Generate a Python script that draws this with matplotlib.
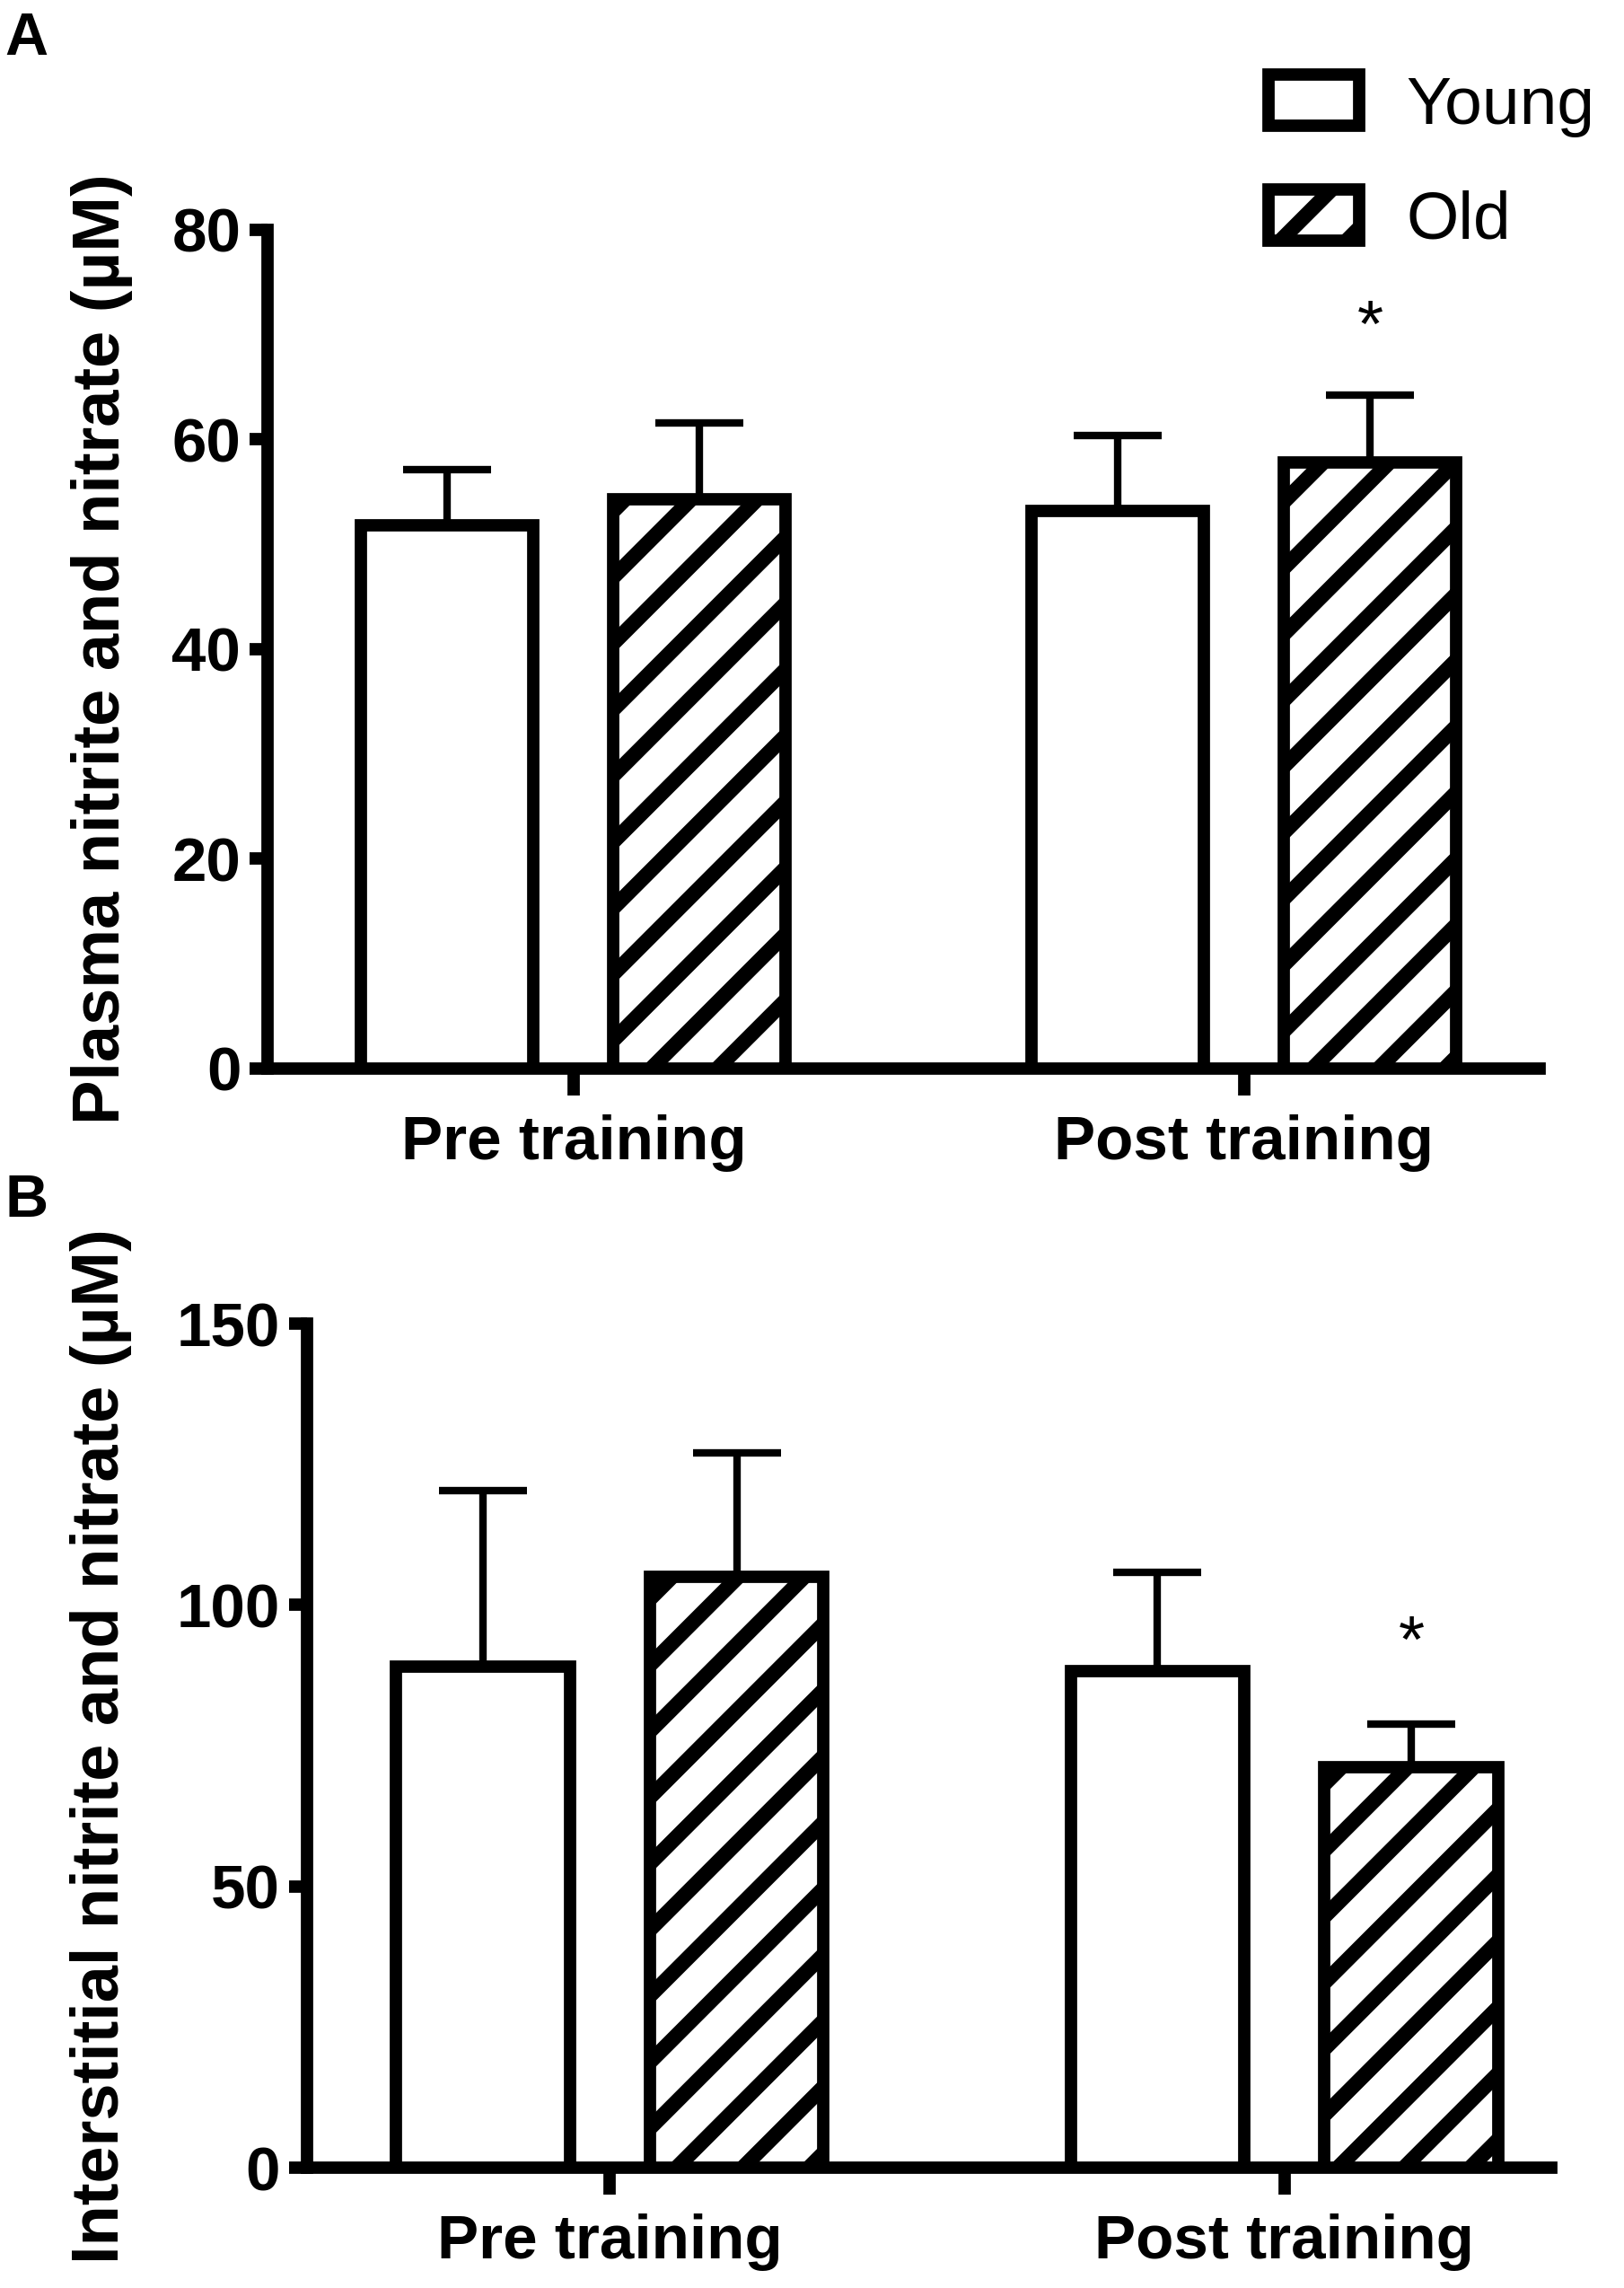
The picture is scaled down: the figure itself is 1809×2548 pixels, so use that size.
import matplotlib
matplotlib.use('Agg')
import matplotlib.pyplot as plt
import numpy as np

# dpi chosen so the '///' hatch spacing matches the picture;
# k turns the sizes I measured at 600 dpi into points at this dpi
DPI = 663
k = 600 / DPI

plt.rcParams['font.family'] = ['Liberation Sans', 'DejaVu Sans']
plt.rcParams['hatch.linewidth'] = 2.0 * k

# data
categories = ['Pre training', 'Post training']
groups = ['Young', 'Old']

plasma_young = [51.8, 53.2]
plasma_young_err = [5.3, 7.2]
plasma_old = [54.3, 57.8]
plasma_old_err = [7.3, 6.4]

inter_young = [89.0, 88.2]
inter_young_err = [31.4, 17.6]
inter_old = [105.0, 71.2]
inter_old_err = [22.0, 7.6]

lw = 1.65 * k
width = 0.257
off = 0.188

fig = plt.figure(figsize=(1809/DPI, 2548/DPI), dpi=DPI)
axA = fig.add_axes([0.1649, 0.533, 0.948-0.1649, 0.8996-0.533])
axB = fig.add_axes([0.189, 0.0525, 0.955-0.189, 0.4215-0.0525])

def panel(ax, young, young_err, old, old_err, ymax, yticks, ylabel, xlim, star_y):
    x = np.arange(len(categories))
    ekw = dict(elinewidth=1.0*k, capthick=1.0*k, ecolor='black')
    ax.bar(x-off, young, width, color='white', edgecolor='black', linewidth=lw,
           yerr=[np.zeros(len(young)), young_err], capsize=5.9*k, error_kw=ekw,
           label=groups[0], zorder=3)
    ax.bar(x+off, old, width, color='white', edgecolor='black', linewidth=lw,
           hatch='///', yerr=[np.zeros(len(old)), old_err], capsize=5.9*k,
           error_kw=ekw, label=groups[1], zorder=3)
    ax.text(x[1]+off, star_y, '*', ha='center', va='center', fontsize=9*k)
    ax.set_ylim(0, ymax)
    ax.set_xlim(*xlim)
    ax.set_yticks(yticks)
    ax.set_xticks(x)
    ax.set_xticklabels(categories, fontsize=8.3*k, fontweight='bold')
    for t in ax.get_yticklabels():
        t.set_fontsize(8.3*k)
        t.set_fontweight('bold')
    ax.spines['top'].set_visible(False)
    ax.spines['right'].set_visible(False)
    ax.spines['left'].set_linewidth(lw)
    ax.spines['bottom'].set_linewidth(lw)
    ax.tick_params(axis='y', length=2.4*k, width=lw, pad=1.2*k)
    ax.tick_params(axis='x', length=3.6*k, width=lw, pad=2.5*k)
    ax.set_ylabel(ylabel, fontsize=8.9*k, fontweight='bold')

panel(axA, plasma_young, plasma_young_err, plasma_old, plasma_old_err,
      80, [0, 20, 40, 60, 80], 'Plasma nitrite and nitrate (µM)',
      (-0.456, 1.441), 70.5)
axA.yaxis.set_label_coords(-0.106, 0.5)

panel(axB, inter_young, inter_young_err, inter_old, inter_old_err,
      150, [0, 50, 100, 150], 'Interstitial nitrite and nitrate (µM)',
      (-0.449, 1.395), 93)
axB.yaxis.set_label_coords(-0.141, 0.5)

axA.legend(loc='upper left', bbox_to_anchor=(0.781, 0.9675),
           bbox_transform=fig.transFigure, frameon=False, fontsize=9*k,
           handlelength=1.35, handleheight=0.8, handletextpad=0.7,
           labelspacing=0.78, borderpad=0, borderaxespad=0)

fig.text(0.003, 0.995, 'A', fontsize=8*k, fontweight='bold', va='top', ha='left')
fig.text(0.003, 0.487, 'B', fontsize=8*k, fontweight='bold', va='top', ha='left')

fig.savefig('out.png', dpi=DPI)
